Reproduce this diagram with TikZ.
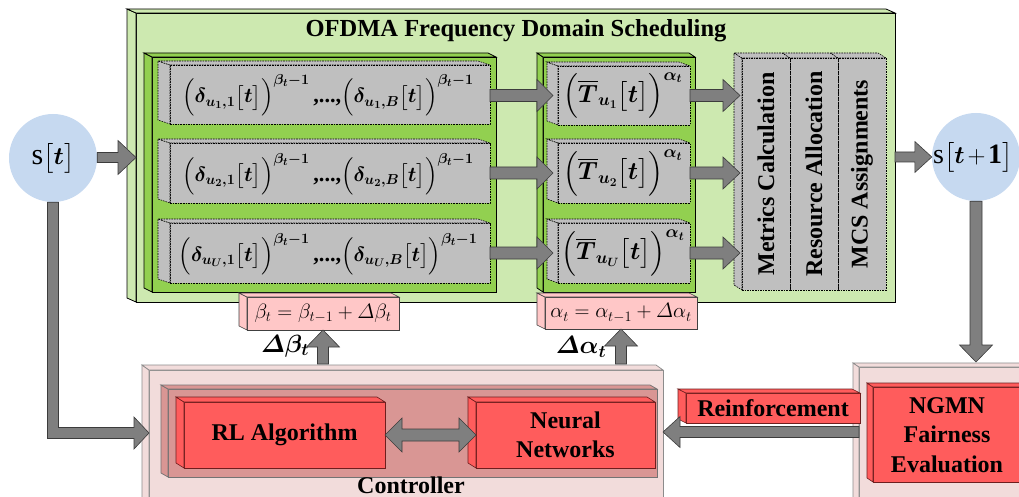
\documentclass[tikz,border=0pt]{standalone}
\usepackage{amsmath}
\usepackage{fontspec}
\setmainfont{Liberation Serif}
\usetikzlibrary{calc}
\definecolor{greenL}{RGB}{205,233,176}
\definecolor{greenD}{RGB}{146,208,80}
\definecolor{grayB}{RGB}{191,191,191}
\definecolor{pinkB}{RGB}{255,199,199}
\definecolor{ctlP}{RGB}{242,220,219}
\definecolor{ctlD}{RGB}{217,150,148}
\definecolor{redB}{RGB}{255,92,92}
\definecolor{redE}{RGB}{110,30,30}
\definecolor{circB}{RGB}{198,217,240}
\definecolor{arrF}{RGB}{127,127,127}
\definecolor{arrD}{RGB}{60,60,60}
\tikzset{
  face/.style={rectangle, inner sep=0pt, outer sep=0pt, anchor=north west},
  ogreen/.style={draw=black, line width=0.8pt, fill=greenL},
  dgreen/.style={draw=black, line width=0.8pt, fill=greenD},
  gbox/.style={draw=black, line width=0.6pt, dash pattern=on 1.6pt off 1pt, fill=grayB},
  pbox/.style={draw=black!75, line width=0.6pt, fill=pinkB},
  cbox/.style={draw=black!45, line width=0.7pt, fill=ctlP},
  cdbox/.style={draw=black!55, line width=0.7pt, fill=ctlD},
  rbox/.style={draw=redE, line width=0.6pt, fill=redB},
  circ/.style={circle, fill=circB, minimum size=88pt, inner sep=0pt},
  barrow/.style={fill=arrF, draw=arrD, line width=0.6pt, line join=miter},
  blab/.style={font=\bfseries\fontsize{24}{29.5}\selectfont, align=center},
  mtxt/.style={font=\fontsize{22.3}{22.3}\selectfont\boldmath, inner sep=0pt},
  ttxt/.style={font=\fontsize{26}{26}\selectfont\boldmath, inner sep=0pt},
}
% 3D side and top panels of a front-face node
\newcommand\sides[4]{%
  \path[#4] (#1.north west) -- ++(-#2,-#3) -- ($(#1.south west)+(-#2,-#3)$) -- (#1.south west) -- cycle;
  \path[#4] (#1.north west) -- ++(-#2,-#3) -- ($(#1.north east)+(-#2,-#3)$) -- (#1.north east) -- cycle;}
% block arrows: tail, tip, shaft half width, head half width, head length
\newcommand\arR[5]{\path[barrow] let \p1=(#1), \p2=(#2) in
  (\x1,\y2+#3pt) -- (\x2-#5pt,\y2+#3pt) -- (\x2-#5pt,\y2+#4pt) -- (\x2,\y2) -- (\x2-#5pt,\y2-#4pt) -- (\x2-#5pt,\y2-#3pt) -- (\x1,\y2-#3pt) -- cycle;}
\newcommand\arL[5]{\path[barrow] let \p1=(#1), \p2=(#2) in
  (\x1,\y2+#3pt) -- (\x2+#5pt,\y2+#3pt) -- (\x2+#5pt,\y2+#4pt) -- (\x2,\y2) -- (\x2+#5pt,\y2-#4pt) -- (\x2+#5pt,\y2-#3pt) -- (\x1,\y2-#3pt) -- cycle;}
\newcommand\arU[5]{\path[barrow] let \p1=(#1), \p2=(#2) in
  (\x2-#3pt,\y1) -- (\x2-#3pt,\y2-#5pt) -- (\x2-#4pt,\y2-#5pt) -- (\x2,\y2) -- (\x2+#4pt,\y2-#5pt) -- (\x2+#3pt,\y2-#5pt) -- (\x2+#3pt,\y1) -- cycle;}
\newcommand\arDn[5]{\path[barrow] let \p1=(#1), \p2=(#2) in
  (\x2-#3pt,\y1) -- (\x2-#3pt,\y2+#5pt) -- (\x2-#4pt,\y2+#5pt) -- (\x2,\y2) -- (\x2+#4pt,\y2+#5pt) -- (\x2+#3pt,\y2+#5pt) -- (\x2+#3pt,\y1) -- cycle;}
\newcommand\arBoth[5]{\path[barrow] let \p1=(#1), \p2=(#2) in
  (\x1,\y1) -- (\x1+#5pt,\y1+#4pt) -- (\x1+#5pt,\y1+#3pt) -- (\x2-#5pt,\y1+#3pt) -- (\x2-#5pt,\y1+#4pt) -- (\x2,\y1)
  -- (\x2-#5pt,\y1-#4pt) -- (\x2-#5pt,\y1-#3pt) -- (\x1+#5pt,\y1-#3pt) -- (\x1+#5pt,\y1-#4pt) -- cycle;}
\newcommand\arEl[5]{\path[barrow] let \p1=(#1), \p2=(#2) in
  (\x1-#3pt,\y1) -- (\x1+#3pt,\y1) -- (\x1+#3pt,\y2+#3pt) -- (\x2-#5pt,\y2+#3pt) -- (\x2-#5pt,\y2+#4pt) -- (\x2,\y2)
  -- (\x2-#5pt,\y2-#4pt) -- (\x2-#5pt,\y2-#3pt) -- (\x1-#3pt,\y2-#3pt) -- cycle;}
\newcommand\drow[1]{$\Bigl(\delta_{u_{#1},1}\bigl[t\bigr]\Bigr)^{\beta_t-1}\text{\bfseries\,,...,}\Bigl(\delta_{u_{#1},B}\bigl[t\bigr]\Bigr)^{\beta_t-1}$}
\newcommand\trow[1]{$\Bigl(\overline{T}_{u_{#1}}\bigl[t\bigr]\Bigr)^{\alpha_t}$}
\begin{document}
\begin{tikzpicture}[x=1pt,y=-1pt]
\useasboundingbox (0,0) rectangle (1019,497);

% ---- OFDMA outer box
\node[face,ogreen,minimum width=759pt,minimum height=289pt] (ofd) at (136,13) {};
\sides{ofd}{9}{4}{ogreen}
\node[blab,font=\bfseries\fontsize{24.5}{29.5}\selectfont] (title) at (516,31) {OFDMA Frequency Domain Scheduling};

% ---- dark green columns
\node[face,dgreen,minimum width=344pt,minimum height=235pt] (gc1) at (152,57) {};
\sides{gc1}{8}{4}{dgreen}
\node[face,dgreen,minimum width=152pt,minimum height=235pt] (gc2) at (543,57) {};
\sides{gc2}{6}{4}{dgreen}

% ---- gray boxes column 1
\node[face,gbox,minimum width=320pt,minimum height=59pt] (d1) at (170,65) {};
\sides{d1}{12}{4}{gbox}
\node[mtxt] (d1t) at ($(d1.center)+(-2,1)$) {\drow{1}};
\node[face,gbox,minimum width=320pt,minimum height=60pt] (d2) at (170,143) {};
\sides{d2}{12}{4}{gbox}
\node[mtxt] (d2t) at ($(d2.center)+(-2,1)$) {\drow{2}};
\node[face,gbox,minimum width=320pt,minimum height=60pt] (d3) at (170,223) {};
\sides{d3}{12}{4}{gbox}
\node[mtxt] (d3t) at ($(d3.center)+(-2,1)$) {\drow{U}};

% ---- gray boxes column 2
\node[face,gbox,minimum width=132pt,minimum height=59pt] (t1) at (558,66) {};
\sides{t1}{11}{4}{gbox}
\node[ttxt] (t1t) at ($(t1.center)+(-1,0)$) {\trow{1}};
\node[face,gbox,minimum width=132pt,minimum height=60pt] (t2) at (558,143) {};
\sides{t2}{11}{4}{gbox}
\node[ttxt] (t2t) at ($(t2.center)+(-1,0)$) {\trow{2}};
\node[face,gbox,minimum width=132pt,minimum height=60pt] (t3) at (558,223) {};
\sides{t3}{11}{4}{gbox}
\node[ttxt] (t3t) at ($(t3.center)+(-1,0)$) {\trow{U}};

% ---- metrics / resource / MCS
\node[face,gbox,minimum width=48pt,minimum height=232pt] (m3) at (838,58) {};
\sides{m3}{8}{5}{gbox}
\node[face,gbox,minimum width=48pt,minimum height=232pt] (m2) at (790,58) {};
\sides{m2}{8}{5}{gbox}
\node[face,gbox,minimum width=48pt,minimum height=232pt] (m1) at (742,58) {};
\sides{m1}{8}{5}{gbox}
\node[blab,rotate=90] (m1t) at (m1.center) {Metrics Calculation};
\node[blab,rotate=90] (m2t) at (m2.center) {Resource Allocation};
\node[blab,rotate=90] (m3t) at (m3.center) {MCS Assignments};

% ---- update boxes
\node[face,pbox,minimum width=152pt,minimum height=33pt] (beta) at (247,297) {};
\sides{beta}{8}{4}{pbox}
\node[font=\fontsize{20.5}{20}\selectfont,inner sep=0pt] (betat) at (beta.center) {$\beta_t=\beta_{t-1}+\varDelta\beta_t$};
\node[face,pbox,minimum width=152pt,minimum height=32pt] (alpha) at (545,297) {};
\sides{alpha}{8}{4}{pbox}
\node[font=\fontsize{20.5}{20}\selectfont,inner sep=0pt] (alphat) at (alpha.center) {$\alpha_t=\alpha_{t-1}+\varDelta\alpha_t$};

% ---- controller
\node[face,cbox,minimum width=514pt,minimum height=140pt] (ctl) at (149,370) {};
\sides{ctl}{7}{5}{cbox}
\node[face,cdbox,minimum width=489pt,minimum height=88pt] (cin) at (168,389) {};
\sides{cin}{7}{4}{cdbox}
\node[face,rbox,blab,minimum width=201pt,minimum height=66pt] (rl) at (184,402) {RL Algorithm};
\sides{rl}{8}{5}{rbox}
\node[face,rbox,blab,minimum width=179pt,minimum height=66pt] (nn) at (476,402) {Neural\\Networks};
\sides{nn}{8}{5}{rbox}
\node[blab] (ctlt) at (411,485) {Controller};

% ---- NGMN
\node[face,cbox,minimum width=171pt,minimum height=143pt] (ngo) at (859,367) {};
\sides{ngo}{6}{4}{cbox}
\node[face,rbox,minimum width=157pt,minimum height=95pt] (ngr) at (873,387) {};
\sides{ngr}{6}{4}{rbox}
\node[blab] (ngt) at (947,435) {NGMN\\Fairness\\Evaluation};
\node[face,rbox,blab,minimum width=174pt,minimum height=30pt] (rf) at (686,393) {Reinforcement};
\sides{rf}{8}{4}{rbox}

% ---- state circles
\node[circ,font=\fontsize{30}{30}\selectfont] (st) at (53,158) {s$\bigl[\boldsymbol{t}\bigr]$};
\node[circ] (st1) at (976,157) {};
\node[font=\fontsize{28}{28}\selectfont,anchor=west,inner sep=0pt] (st1t) at (933,157) {s$\bigl[\boldsymbol{t}\mkern2mu{+}\mkern2mu\mathbf{1}\bigr]$};

% ---- labels
\node[font=\fontsize{25}{25}\selectfont] (dbl) at (285,346) {$\boldsymbol{\varDelta\beta_t}$};
\node[font=\fontsize{25}{25}\selectfont] (dal) at (581,347) {$\boldsymbol{\varDelta\alpha_t}$};

% ---- connectors
\coordinate (rfy) at (0,432);
\coordinate (cly) at (0,433);
\arR{st.east}{ofd.west}{5}{17}{18}
\arR{ofd.east}{st1.west}{5}{15.5}{17}
\arR{d1.east}{$(t1.west)+(-5,0)$}{6}{16}{16}
\arR{d2.east}{$(t2.west)+(-5,0)$}{6}{16}{16}
\arR{d3.east}{$(t3.west)+(-5,0)$}{6}{16}{16}
\arR{t1.east}{$(m1.west |- t1.east)+(-2,0)$}{6}{16}{17}
\arR{t2.east}{$(m1.west |- t2.east)+(-2,0)$}{6}{16}{17}
\arR{t3.east}{$(m1.west |- t3.east)+(-2,0)$}{6}{16}{17}
\arU{$(beta.south |- ctl.north)+(0,-6)$}{beta.south}{5.5}{16.5}{17}
\arU{$(alpha.south |- ctl.north)+(0,-6)$}{alpha.south}{5.5}{16.5}{17}
\arDn{st1.south}{$(st1.south |- ngo.north)+(0,-5)$}{6}{16.5}{17}
\arL{ngo.west |- rfy}{ctl.east |- rfy}{5.5}{15.5}{17}
\arEl{st.south}{ctl.west |- cly}{5.5}{16}{15}
\arBoth{rl.east}{nn.west}{6}{17}{17}
\end{tikzpicture}
\end{document}
